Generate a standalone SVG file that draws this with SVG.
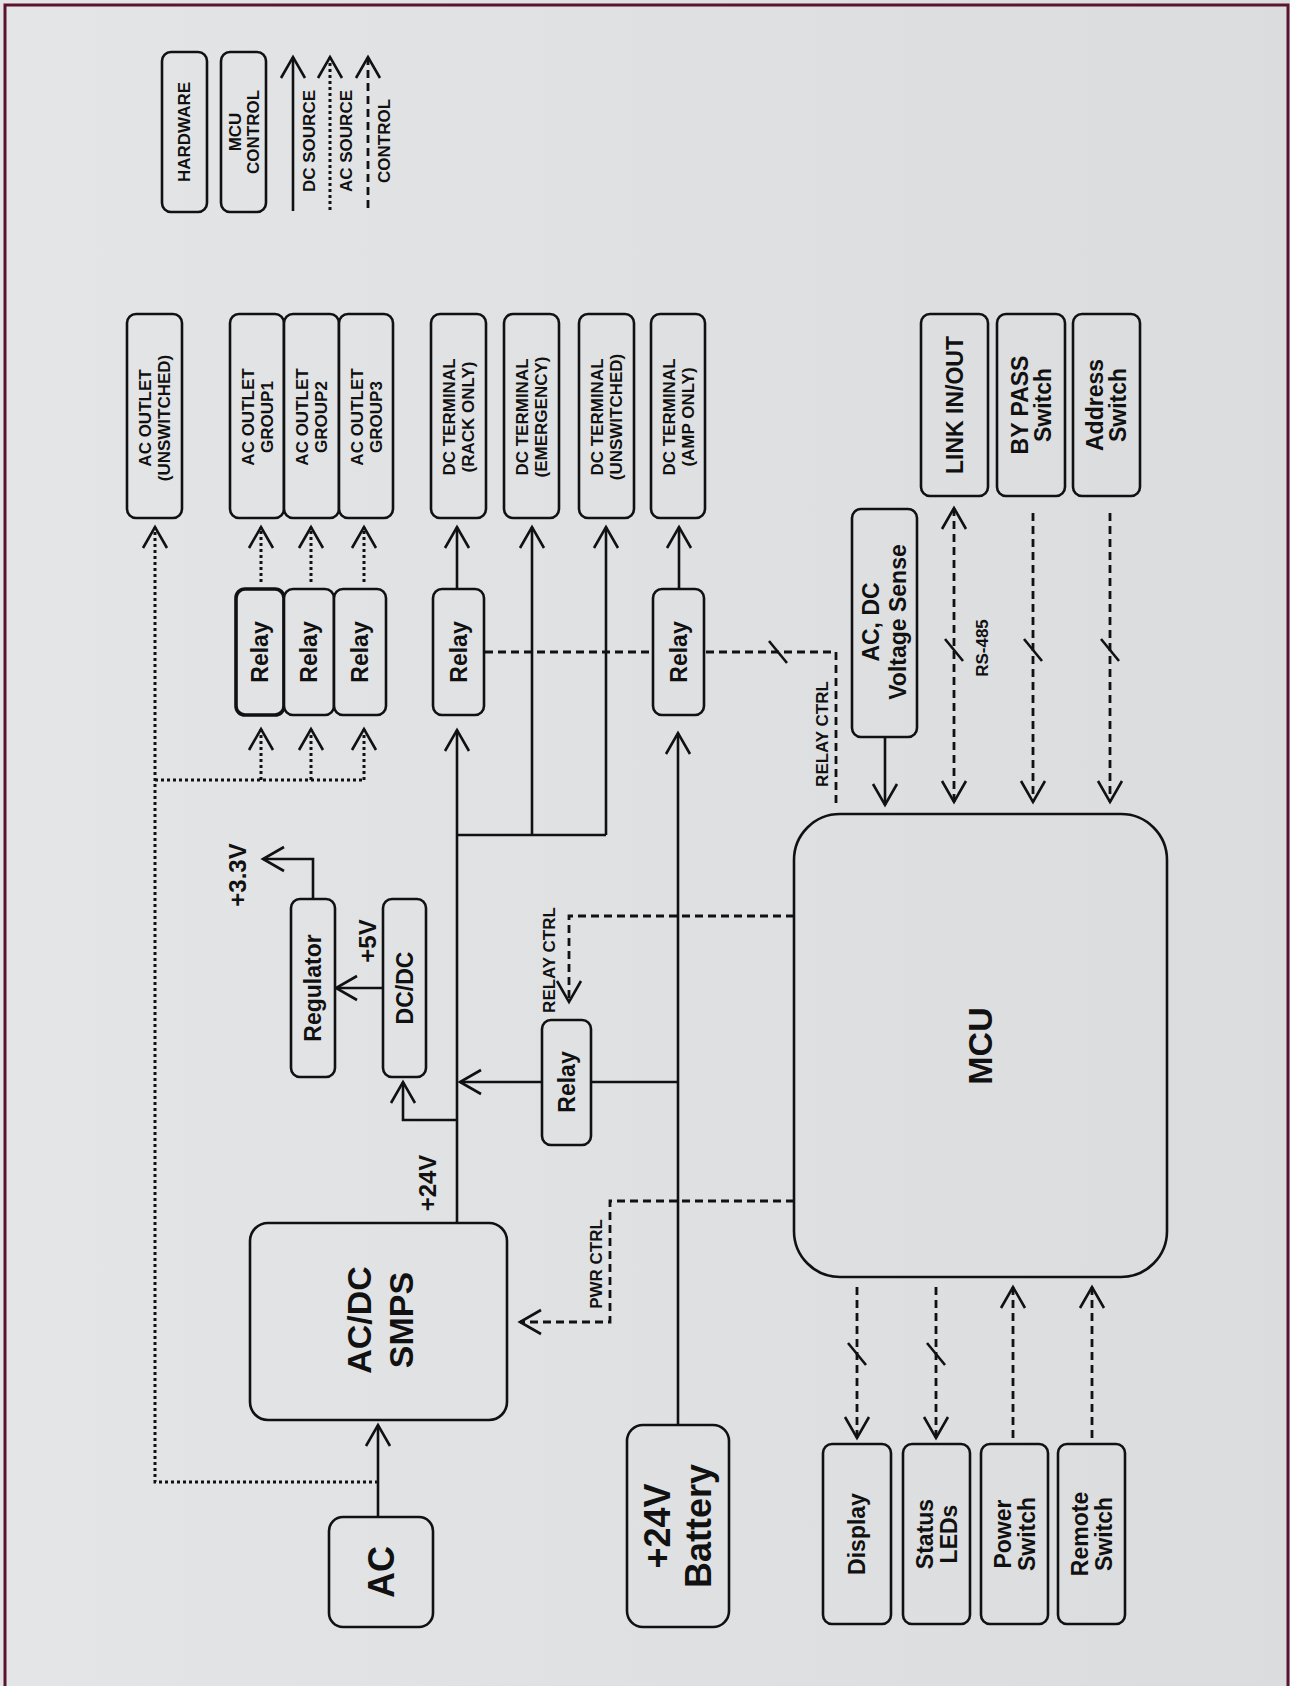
<svg xmlns="http://www.w3.org/2000/svg" width="1290" height="1686" viewBox="0 0 1290 1686">
<defs>
<linearGradient id="bg" gradientUnits="userSpaceOnUse" x1="0" y1="0" x2="1290" y2="0">
<stop offset="0" stop-color="#e4e5e7"/>
<stop offset="1" stop-color="#dbdcde"/>
</linearGradient>
<marker id="arr" viewBox="-24 -15 27 30" markerWidth="27" markerHeight="30" refX="0" refY="0" markerUnits="userSpaceOnUse" orient="auto-start-reverse">
<path d="M-21,-12 L0,0 L-21,12" fill="none" stroke="#111" stroke-width="2.6" stroke-dasharray="none"/>
</marker>
<style>
.box{fill:url(#bg);stroke:#111;stroke-width:2.6}
.s{fill:none;stroke:#111;stroke-width:2.6}
.d{fill:none;stroke:#111;stroke-width:3;stroke-dasharray:3 3}
.k{fill:none;stroke:#111;stroke-width:2.8;stroke-dasharray:8 5}
.sl{fill:none;stroke:#111;stroke-width:2.6}
text{font-family:"Liberation Sans",Arial,sans-serif;font-weight:bold;fill:#111;text-anchor:middle}
.f16{font-size:16px}
.f17{font-size:17px}
.f23{font-size:23px}
.f24{font-size:24px}
.f34{font-size:34px}
.f36{font-size:36px}
</style>
</defs>
<rect x="0" y="0" width="1290" height="1686" fill="url(#bg)"/>
<path d="M5,1690 V5 H1288 V1690" fill="none" stroke="#5a1430" stroke-width="3"/>

<g id="legend">
<rect class="box" x="162" y="52" width="45" height="160" rx="9"/>
<text class="f17" transform="translate(184,132) rotate(-90)" y="6">HARDWARE</text>
<rect class="box" x="221" y="52" width="45" height="160" rx="9"/>
<text class="f17" transform="translate(244,132) rotate(-90)"><tspan x="0" y="-3">MCU</tspan><tspan x="0" y="15">CONTROL</tspan></text>
<path class="s" d="M293,211 V57" marker-end="url(#arr)"/>
<path class="d" d="M330,210 V57" marker-end="url(#arr)"/>
<path class="k" d="M368,208 V57" marker-end="url(#arr)"/>
<text class="f17" transform="translate(309,141) rotate(-90)" y="6">DC SOURCE</text>
<text class="f17" transform="translate(346,141) rotate(-90)" y="6">AC SOURCE</text>
<text class="f17" transform="translate(384,141) rotate(-90)" y="6">CONTROL</text>
</g>

<g id="connectors">
<path class="s" d="M378,1517 V1425" marker-end="url(#arr)"/>
<path class="d" d="M378,1482 H155 V527" marker-end="url(#arr)"/>
<path class="d" d="M155,780 H364"/>
<path class="d" d="M261,780 V729" marker-end="url(#arr)"/>
<path class="d" d="M311,780 V729" marker-end="url(#arr)"/>
<path class="d" d="M364,780 V729" marker-end="url(#arr)"/>
<path class="d" d="M261,582 V527" marker-end="url(#arr)"/>
<path class="d" d="M311,582 V527" marker-end="url(#arr)"/>
<path class="d" d="M364,582 V527" marker-end="url(#arr)"/>
<path class="s" d="M457,1223 V730" marker-end="url(#arr)"/>
<path class="s" d="M457,835 H606"/>
<path class="s" d="M532,835 V527" marker-end="url(#arr)"/>
<path class="s" d="M606,835 V527" marker-end="url(#arr)"/>
<path class="s" d="M457,589 V527" marker-end="url(#arr)"/>
<path class="s" d="M679,589 V527" marker-end="url(#arr)"/>
<path class="s" d="M678,1425 V733" marker-end="url(#arr)"/>
<path class="s" d="M678,1082 H591"/>
<path class="s" d="M542,1082 H460" marker-end="url(#arr)"/>
<path class="s" d="M457,1120 H403 V1082" marker-end="url(#arr)"/>
<path class="s" d="M383,988 H336" marker-end="url(#arr)"/>
<path class="s" d="M313,899 V859 H263" marker-end="url(#arr)"/>
<path class="k" d="M485,652 H836 V808"/>
<path class="sl" d="M769,641 L787,663"/>
<path class="s" d="M885,737 V805" marker-end="url(#arr)"/>
<path class="k" d="M954,508 V802" marker-start="url(#arr)" marker-end="url(#arr)"/>
<path class="sl" d="M945,639 L963,661"/>
<path class="k" d="M1033,513 V802" marker-end="url(#arr)"/>
<path class="sl" d="M1024,639 L1042,661"/>
<path class="k" d="M1110,513 V802" marker-end="url(#arr)"/>
<path class="sl" d="M1101,639 L1119,661"/>
<path class="k" d="M857,1287 V1438" marker-end="url(#arr)"/>
<path class="sl" d="M848,1343 L866,1365"/>
<path class="k" d="M936,1287 V1438" marker-end="url(#arr)"/>
<path class="sl" d="M927,1343 L945,1365"/>
<path class="k" d="M1013,1438 V1287" marker-end="url(#arr)"/>
<path class="k" d="M1092,1438 V1287" marker-end="url(#arr)"/>
<path class="k" d="M794,916 H569 V1002" marker-end="url(#arr)"/>
<path class="k" d="M794,1201 H610 V1322 H520" marker-end="url(#arr)"/>
</g>

<g id="labels">
<text class="f24" transform="translate(238,875) rotate(-90)" y="8">+3.3V</text>
<text class="f24" transform="translate(368,941) rotate(-90)" y="8">+5V</text>
<text class="f24" transform="translate(428,1183) rotate(-90)" y="8">+24V</text>
<text class="f17" transform="translate(822,734) rotate(-90)" y="6">RELAY CTRL</text>
<text class="f17" transform="translate(549,960) rotate(-90)" y="6">RELAY CTRL</text>
<text class="f17" transform="translate(596,1264) rotate(-90)" y="6">PWR CTRL</text>
<text class="f17" transform="translate(982,648) rotate(-90)" y="6">RS-485</text>
</g>

<g id="ac-outlet-unswitched">
<rect class="box" x="127" y="314" width="55" height="204" rx="9"/>
<text class="f17" transform="translate(154.5,418) rotate(-90)"><tspan x="0" y="-3.5">AC OUTLET</tspan><tspan x="0" y="15.5">(UNSWITCHED)</tspan></text>
</g>
<g id="ac-outlet-group1">
<rect class="box" x="230" y="314" width="54" height="204" rx="9"/>
<text class="f17" transform="translate(257,417) rotate(-90)"><tspan x="0" y="-3.5">AC OUTLET</tspan><tspan x="0" y="15.5">GROUP1</tspan></text>
</g>
<g id="ac-outlet-group2">
<rect class="box" x="284" y="314" width="55" height="204" rx="9"/>
<text class="f17" transform="translate(311.5,417) rotate(-90)"><tspan x="0" y="-3.5">AC OUTLET</tspan><tspan x="0" y="15.5">GROUP2</tspan></text>
</g>
<g id="ac-outlet-group3">
<rect class="box" x="339" y="314" width="54" height="204" rx="9"/>
<text class="f17" transform="translate(366,417) rotate(-90)"><tspan x="0" y="-3.5">AC OUTLET</tspan><tspan x="0" y="15.5">GROUP3</tspan></text>
</g>
<g id="dc-terminal-rack">
<rect class="box" x="431" y="314" width="55" height="204" rx="9"/>
<text class="f17" transform="translate(458.5,417) rotate(-90)"><tspan x="0" y="-3.5">DC TERMINAL</tspan><tspan x="0" y="15.5">(RACK ONLY)</tspan></text>
</g>
<g id="dc-terminal-emergency">
<rect class="box" x="504" y="314" width="55" height="204" rx="9"/>
<text class="f17" transform="translate(531.5,417) rotate(-90)"><tspan x="0" y="-3.5">DC TERMINAL</tspan><tspan x="0" y="15.5">(EMERGENCY)</tspan></text>
</g>
<g id="dc-terminal-unswitched">
<rect class="box" x="579" y="314" width="55" height="204" rx="9"/>
<text class="f17" transform="translate(606.5,417) rotate(-90)"><tspan x="0" y="-3.5">DC TERMINAL</tspan><tspan x="0" y="15.5">(UNSWITCHED)</tspan></text>
</g>
<g id="dc-terminal-amp">
<rect class="box" x="651" y="314" width="54" height="204" rx="9"/>
<text class="f17" transform="translate(678,417) rotate(-90)"><tspan x="0" y="-3.5">DC TERMINAL</tspan><tspan x="0" y="15.5">(AMP ONLY)</tspan></text>
</g>

<g id="relay1">
<rect class="box" x="236" y="589" width="48" height="126" rx="9" style="stroke-width:3.6"/>
<text class="f23" transform="translate(260,652) rotate(-90)" y="8">Relay</text>
</g>
<g id="relay2">
<rect class="box" x="284" y="589" width="50" height="126" rx="9"/>
<text class="f23" transform="translate(309,652) rotate(-90)" y="8">Relay</text>
</g>
<g id="relay3">
<rect class="box" x="334" y="589" width="52" height="126" rx="9"/>
<text class="f23" transform="translate(360,652) rotate(-90)" y="8">Relay</text>
</g>
<g id="relay-rack">
<rect class="box" x="433" y="589" width="51" height="126" rx="9"/>
<text class="f23" transform="translate(458.5,652) rotate(-90)" y="8">Relay</text>
</g>
<g id="relay-amp">
<rect class="box" x="653" y="589" width="51" height="126" rx="9"/>
<text class="f23" transform="translate(678.5,652) rotate(-90)" y="8">Relay</text>
</g>

<g id="voltage-sense">
<rect class="box" x="852" y="509" width="65" height="228" rx="9"/>
<text class="f23" transform="translate(884.5,622) rotate(-90)"><tspan x="0" y="-5.5">AC, DC</tspan><tspan x="0" y="21.5">Voltage Sense</tspan></text>
</g>
<g id="link">
<rect class="box" x="921" y="314" width="67" height="182" rx="9"/>
<text class="f23" transform="translate(954.5,405) rotate(-90)" y="8">LINK IN/OUT</text>
</g>
<g id="bypass">
<rect class="box" x="997" y="314" width="68" height="182" rx="9"/>
<text class="f23" transform="translate(1031,405) rotate(-90)"><tspan x="0" y="-3.5">BY PASS</tspan><tspan x="0" y="19.5">Switch</tspan></text>
</g>
<g id="address">
<rect class="box" x="1073" y="314" width="67" height="182" rx="9"/>
<text class="f23" transform="translate(1106.5,405) rotate(-90)"><tspan x="0" y="-3.5">Address</tspan><tspan x="0" y="19.5">Switch</tspan></text>
</g>

<g id="regulator">
<rect class="box" x="291" y="899" width="44" height="178" rx="9"/>
<text class="f23" transform="translate(313,988) rotate(-90)" y="8">Regulator</text>
</g>
<g id="dcdc">
<rect class="box" x="383" y="899" width="43" height="178" rx="9"/>
<text class="f23" transform="translate(404.5,988) rotate(-90)" y="8">DC/DC</text>
</g>
<g id="relay-mid">
<rect class="box" x="542" y="1020" width="49" height="125" rx="9"/>
<text class="f23" transform="translate(566.5,1082) rotate(-90)" y="8">Relay</text>
</g>

<g id="smps">
<rect class="box" x="250" y="1223" width="257" height="197" rx="18"/>
<text class="f34" transform="translate(380,1320) rotate(-90)"><tspan x="0" y="-9">AC/DC</tspan><tspan x="0" y="33">SMPS</tspan></text>
</g>
<g id="ac">
<rect class="box" x="329" y="1517" width="104" height="110" rx="14"/>
<text class="f36" transform="translate(381,1572) rotate(-90)" y="13">AC</text>
</g>
<g id="battery">
<rect class="box" x="627" y="1425" width="102" height="202" rx="16"/>
<text class="f36" transform="translate(678,1526) rotate(-90)"><tspan x="0" y="-8">+24V</tspan><tspan x="0" y="33">Battery</tspan></text>
</g>

<g id="mcu">
<rect class="box" x="794" y="814" width="373" height="463" rx="46"/>
<text class="f34" transform="translate(980,1046) rotate(-90)" y="12">MCU</text>
</g>

<g id="display">
<rect class="box" x="823" y="1444" width="68" height="180" rx="9"/>
<text class="f23" transform="translate(857,1534) rotate(-90)" y="8">Display</text>
</g>
<g id="status-leds">
<rect class="box" x="903" y="1444" width="67" height="180" rx="9"/>
<text class="f23" transform="translate(936.5,1534) rotate(-90)"><tspan x="0" y="-4">Status</tspan><tspan x="0" y="20">LEDs</tspan></text>
</g>
<g id="power-switch">
<rect class="box" x="981" y="1444" width="67" height="180" rx="9"/>
<text class="f23" transform="translate(1014.5,1534) rotate(-90)"><tspan x="0" y="-4">Power</tspan><tspan x="0" y="20">Switch</tspan></text>
</g>
<g id="remote-switch">
<rect class="box" x="1058" y="1444" width="67" height="180" rx="9"/>
<text class="f23" transform="translate(1091.5,1534) rotate(-90)"><tspan x="0" y="-4">Remote</tspan><tspan x="0" y="20">Switch</tspan></text>
</g>
</svg>
